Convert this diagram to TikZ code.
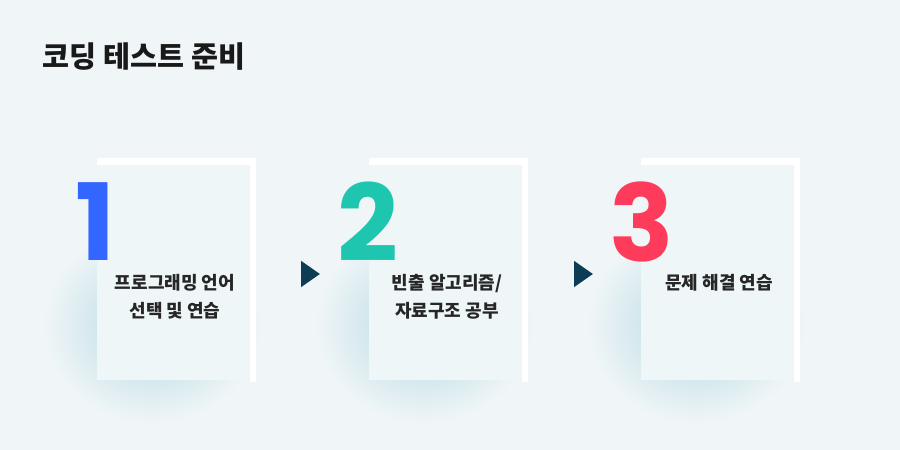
\documentclass[tikz,border=0pt]{standalone}
\usepackage{fontspec}
\setmainfont{Noto Sans CJK KR}
\newfontfamily\numfont{Poppins}
\usetikzlibrary{shapes.geometric}
\definecolor{bg}{HTML}{F0F6F8}
\definecolor{cardc}{HTML}{EEF6F8}
\definecolor{glow}{HTML}{B5D8E0}
\definecolor{arr}{HTML}{0D3C55}
\definecolor{cone}{HTML}{3366FF}
\definecolor{ctwo}{HTML}{1EC6B0}
\definecolor{cthree}{HTML}{FF3B5C}
\begin{document}
\begin{tikzpicture}[x=0.75pt,y=-0.75pt,
  lbl/.style={font=\fontsize{13.5}{21}\selectfont\bfseries, align=center, text=black!85, anchor=north, inner sep=0pt},
  num/.style={font=\fontsize{80}{80}\selectfont\numfont\bfseries, inner sep=0pt, anchor=north west},
  tri/.style={isosceles triangle, fill=arr, minimum height=14pt, minimum width=18pt, inner sep=0pt, isosceles triangle apex angle=70}]
\fill[bg] (0,0) rectangle (900,450);
\useasboundingbox (0,0) rectangle (900,450);
\node[anchor=west, font=\fontsize{22}{24}\selectfont\bfseries, text=black!90] (title) at (38,57) {코딩 테스트 준비};
\foreach \x/\n/\c/\o/\t [count=\i] in {97/1/cone/0/{프로그래밍 언어\\선택 및 연습}, 369/2/ctwo/-10/{빈출 알고리즘/\\자료구조 공부}, 641/3/cthree/-10/{문제 해결 연습}} {
  \shade[inner color=glow, outer color=bg] (\x+55,325) ellipse (110 and 100);
  \fill[cardc] (\x,158) rectangle (\x+156,380);
  \fill[white] (\x,158) rectangle (\x+159,165);
  \fill[white] (\x+153,158) rectangle (\x+159,382);
  \node[num, text=\c] (n\i) at (\x-22+\o,182) {\n};
  \node[lbl] (l\i) at (\x+78,274) {\t};
}
\node[tri] (a1) at (308,274) {};
\node[tri] (a2) at (581,274) {};
\end{tikzpicture}
\end{document}
